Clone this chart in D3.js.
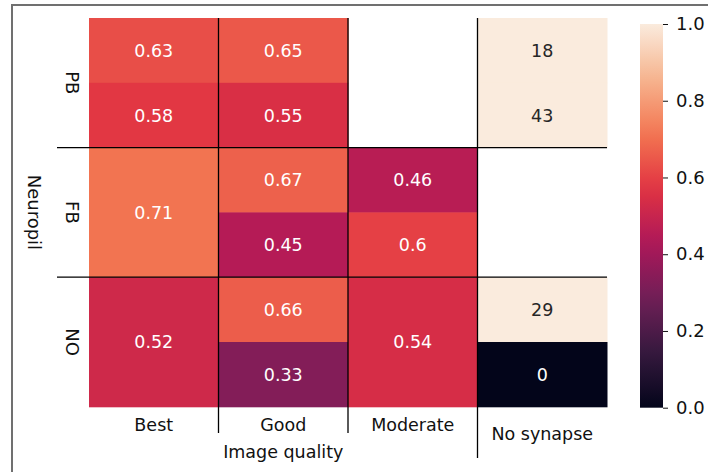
<!DOCTYPE html>
<html>
<head>
<meta charset="utf-8">
<script src="https://cdn.jsdelivr.net/npm/d3@7"></script>
<style>
  body { margin: 0; background: #fff; }
  text { font-family: "DejaVu Sans", Verdana, sans-serif; }
</style>
</head>
<body>
<div id="chart"></div>
<script>
// columns and row groups
const qualities = ["Best", "Good", "Moderate", "No synapse"];
const neuropils = ["PB", "FB", "NO"];

// [first sub-row, rows spanned, value] per column, 6 sub-rows (2 per neuropil)
const bestVals = [[0, 1, 0.63], [1, 1, 0.58], [2, 2, 0.71], [4, 2, 0.52]];
const goodVals = [[0, 1, 0.65], [1, 1, 0.55], [2, 1, 0.67], [3, 1, 0.45], [4, 1, 0.66], [5, 1, 0.33]];
const moderateVals = [[2, 1, 0.46], [3, 1, 0.6], [4, 2, 0.54]];
const noSynapseCounts = [[0, 1, 18], [1, 1, 43], [4, 1, 29], [5, 1, 0]];

const cbTicks = [0, 0.2, 0.4, 0.6, 0.8, 1.0];

// seaborn "rocket" colormap, sampled at 0, 1/7, ..., 1
const rocketStops = ["#03051a", "#35193e", "#701f57", "#ad1759", "#e13342", "#f37651", "#f6b48f", "#faebdd"];
const rocket = d3.piecewise(d3.interpolateRgb, rocketStops);

const W = 708, H = 472;
const svg = d3.select('#chart')
  .append('svg')
  .attr('width', W)
  .attr('height', H);

// figure frame
svg.append('rect')
  .attr('x', 12).attr('y', 5)
  .attr('width', 800).attr('height', 600)
  .attr('fill', 'none')
  .attr('stroke', '#707070')
  .attr('stroke-width', 2);

const x = d3.scaleBand()
  .domain(qualities)
  .range([89, 607]);

const y = d3.scaleLinear()
  .domain([0, 6])
  .range([18, 406.8]);

const color = d3.scaleSequential(rocket).domain([0, 1]).clamp(true);

function textColor(c) {
  const rgb = d3.rgb(c);
  const lin = v => { v /= 255; return v <= 0.03928 ? v / 12.92 : Math.pow((v + 0.055) / 1.055, 2.4); };
  const lum = 0.2126 * lin(rgb.r) + 0.7152 * lin(rgb.g) + 0.0722 * lin(rgb.b);
  return lum > 0.408 ? '#262626' : '#ffffff';
}

const cells = [];
[bestVals, goodVals, moderateVals, noSynapseCounts].forEach((arr, i) => {
  arr.forEach(([row, span, v]) => cells.push({ col: qualities[i], row, span, v }));
});

const g = svg.append('g');

g.selectAll('.cell')
  .data(cells)
  .join('rect')
  .attr('class', 'cell')
  .attr('x', d => x(d.col))
  .attr('y', d => y(d.row))
  .attr('width', x.bandwidth() + 0.5)
  .attr('height', d => y(d.row + d.span) - y(d.row) + 0.5)
  .attr('fill', d => color(d.v));

g.selectAll('.annot')
  .data(cells)
  .join('text')
  .attr('class', 'annot')
  .attr('x', d => x(d.col) + x.bandwidth() / 2)
  .attr('y', d => (y(d.row) + y(d.row + d.span)) / 2)
  .attr('dy', '0.36em')
  .attr('text-anchor', 'middle')
  .attr('font-size', 17.5)
  .attr('fill', d => textColor(color(d.v)))
  .text(d => String(d.v));

// separator lines
const seps = svg.append('g').attr('stroke', '#000').attr('stroke-width', 1.3);
[2, 4].forEach(r => {
  seps.append('line')
    .attr('x1', 57).attr('x2', x.range()[1])
    .attr('y1', y(r)).attr('y2', y(r));
});
qualities.slice(1).forEach((q, i) => {
  seps.append('line')
    .attr('x1', x(q)).attr('x2', x(q))
    .attr('y1', y(0))
    .attr('y2', i === 2 ? 458 : 433);
});

// x labels
svg.selectAll('.xlab')
  .data(qualities)
  .join('text')
  .attr('class', 'xlab')
  .attr('x', d => x(d) + x.bandwidth() / 2)
  .attr('y', d => d === 'No synapse' ? 440 : 431)
  .attr('text-anchor', 'middle')
  .attr('font-size', 17.5)
  .attr('fill', '#111')
  .text(d => d);

svg.append('text')
  .attr('x', x('Good') + x.bandwidth() / 2)
  .attr('y', 458)
  .attr('text-anchor', 'middle')
  .attr('font-size', 17.5)
  .attr('fill', '#111')
  .text('Image quality');

// y labels (rotated clockwise)
svg.selectAll('.ylab')
  .data(neuropils)
  .join('text')
  .attr('class', 'ylab')
  .attr('transform', (d, i) => `translate(66, ${y(i * 2 + 1)}) rotate(90)`)
  .attr('text-anchor', 'middle')
  .attr('font-family', '"Liberation Sans", Arial, sans-serif')
  .attr('font-size', 18)
  .attr('fill', '#111')
  .text(d => d);

svg.append('text')
  .attr('transform', `translate(28, ${y(3)}) rotate(90)`)
  .attr('text-anchor', 'middle')
  .attr('font-family', '"Liberation Sans", Arial, sans-serif')
  .attr('font-size', 18)
  .attr('fill', '#111')
  .text('Neuropil');

// colorbar
const cbX = 640, cbW = 23;
const cbScale = d3.scaleLinear().domain([0, 1]).range([407.7, 24]);

const grad = svg.append('defs').append('linearGradient')
  .attr('id', 'cbgrad')
  .attr('x1', 0).attr('y1', 1).attr('x2', 0).attr('y2', 0);
d3.range(0, 1.0001, 0.05).forEach(t => {
  grad.append('stop').attr('offset', t).attr('stop-color', rocket(t));
});

svg.append('rect')
  .attr('x', cbX).attr('y', cbScale(1))
  .attr('width', cbW).attr('height', cbScale(0) - cbScale(1))
  .attr('fill', 'url(#cbgrad)');

const cbAxis = svg.append('g')
  .attr('transform', `translate(${cbX + cbW}, 0)`)
  .call(d3.axisRight(cbScale).tickValues(cbTicks).tickFormat(d3.format('.1f')).tickSize(5).tickPadding(8));
cbAxis.select('.domain').remove();
cbAxis.selectAll('text')
  .attr('font-size', 18)
  .attr('font-family', '"DejaVu Sans", Verdana, sans-serif')
  .attr('fill', '#111');
cbAxis.selectAll('line').attr('stroke', '#111');
</script>
</body>
</html>
